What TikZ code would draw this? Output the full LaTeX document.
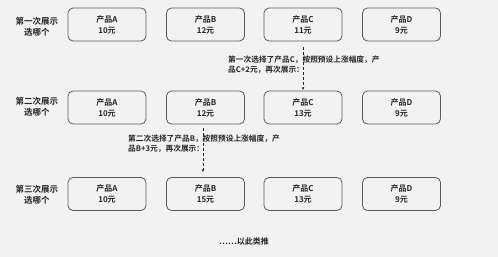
\documentclass[tikz,border=0pt]{standalone}
\usepackage{fontspec}
\setmainfont{Noto Sans CJK SC}[BoldFont={Noto Sans CJK SC Bold}]
\usetikzlibrary{arrows.meta}
\definecolor{bg}{HTML}{F2F2F2}
\definecolor{edge}{HTML}{5A5A5A}
\definecolor{txt}{HTML}{262626}
\begin{document}
\begin{tikzpicture}[x=1pt,y=-1pt,
  prod/.style={draw=edge,line width=0.8pt,rounded corners=5pt,fill=bg,
    minimum width=78pt,minimum height=33pt,inner sep=0pt,align=center,
    font=\fontsize{8}{11}\selectfont\bfseries,text=txt},
  rowlbl/.style={align=center,font=\fontsize{8.5}{11}\selectfont\bfseries,text=txt,inner sep=0pt},
  note/.style={align=left,anchor=north west,font=\fontsize{7.7}{10}\selectfont\bfseries,text=txt,inner sep=0pt},
  flow/.style={densely dashed,draw=txt,line width=0.6pt,-{Stealth[length=3pt,width=2.5pt]}}]
\fill[bg] (0,0) rectangle (498,257);
\useasboundingbox (0,0) rectangle (498,257);
% row labels
\node[rowlbl] (l1) at (37,26.5) {第一次展示\\选哪个};
\node[rowlbl] (l2) at (37,107) {第二次展示\\选哪个};
\node[rowlbl] (l3) at (37,194.5) {第三次展示\\选哪个};
% row 1
\node[prod] (a1) at (107,24.5) {产品A\\10元};
\node[prod] (b1) at (205.5,24.5) {产品B\\12元};
\node[prod] (c1) at (303,24.5) {产品C\\11元};
\node[prod] (d1) at (401.5,24.5) {产品D\\9元};
% row 2
\node[prod] (a2) at (107,107.5) {产品A\\10元};
\node[prod] (b2) at (205.5,107.5) {产品B\\12元};
\node[prod] (c2) at (303,107.5) {产品C\\13元};
\node[prod] (d2) at (401.5,107.5) {产品D\\9元};
% row 3
\node[prod] (a3) at (107,194) {产品A\\10元};
\node[prod] (b3) at (205.5,194) {产品B\\15元};
\node[prod] (c3) at (303,194) {产品C\\13元};
\node[prod] (d3) at (401.5,194) {产品D\\9元};
% notes
\node[note] (n1) at (228,55.5) {第一次选择了产品C，按照预设上涨幅度，产\\品C+2元，再次展示：};
\node[note] (n2) at (128,134.5) {第二次选择了产品B，按照预设上涨幅度，产\\品B+3元，再次展示：};
% arrows
\coordinate (s1) at (303,47);
\coordinate (e1) at (303,90);
\coordinate (s2) at (203,128);
\coordinate (e2) at (203,172);
\draw[flow] (s1) -- (e1);
\draw[flow] (s2) -- (e2);
% footer
\node[rowlbl,font=\fontsize{8}{10}\selectfont\bfseries] (etc) at (244,241) {……以此类推};
\end{tikzpicture}
\end{document}
